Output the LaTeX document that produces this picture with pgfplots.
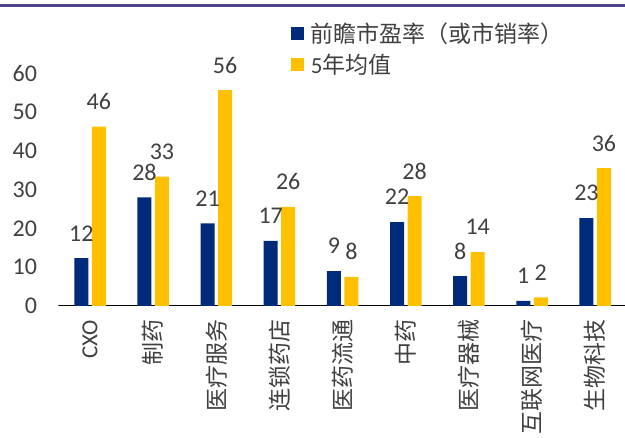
\documentclass[border=0pt]{standalone}
\usepackage{pgfplots}
\pgfplotsset{compat=1.18}
\usepackage{fontspec}
\setmainfont{Carlito}
\newfontfamily\cjk{Noto Sans CJK SC}
\definecolor{navy}{RGB}{0,42,122}
\definecolor{gold}{RGB}{255,192,0}
\definecolor{txt}{RGB}{64,64,64}
\definecolor{topline}{RGB}{78,70,138}
\definecolor{baseline}{RGB}{217,217,217}
\begin{document}
\begin{tikzpicture}
\useasboundingbox (0,0) rectangle (625pt,438pt);
\draw[topline, line width=2.5pt] (0,432.5pt) -- (625pt,432.5pt);
\begin{axis}[
    at={(58.5pt,132pt)}, anchor=south west,
    scale only axis, width=567pt, height=271.8pt,
    ybar=3.5pt, bar width=14pt,
    xmin=-0.5, xmax=8.48, ymin=0, ymax=70,
    xtick={0,...,8},
    xticklabels={CXO,{\cjk 制药},{\cjk 医疗服务},{\cjk 连锁药店},{\cjk 医药流通},{\cjk 中药},{\cjk 医疗器械},{\cjk 互联网医疗},{\cjk 生物科技}},
    ytick={0,10,...,60},
    axis line style={draw=none}, tick style={draw=none},
    tick label style={font=\fontsize{24}{28}\selectfont, text=txt},
    yticklabel style={xshift=-18pt},
    xticklabel style={font=\fontsize{23}{27}\selectfont, yshift=-6pt, rotate=90, anchor=east},
    /pgf/number format/assume math mode=true,
    nodes near coords, point meta=explicit symbolic,
    every node near coord/.append style={font=\fontsize{24}{28}\selectfont, text=txt, anchor=center, yshift=25pt},
    legend style={at={(axis description cs:0.404,1.058)}, anchor=north west, draw=none, fill=none,
        font=\fontsize{23}{27}\selectfont, text=txt, row sep=6pt,
        /tikz/every odd column/.append style={column sep=5pt}},
    legend cell align=left,
    legend image code/.code={\fill[#1,draw=none] (0pt,-6.5pt) rectangle (13pt,6.5pt);},
]
\draw[baseline, line width=1.5pt] (rel axis cs:0,0) -- (rel axis cs:1,0);
\addplot[fill=navy, draw=none] coordinates {
    (0,12.3) [12] (1,28.0) [28] (2,21.3) [21] (3,16.8) [17] (4,9.0) [9]
    (5,21.6) [22] (6,7.7) [8] (7,1.3) [1] (8,22.6) [23]
};
\addlegendentry{{\cjk 前瞻市盈率（或市销率）}}
\addplot[fill=gold, draw=none] coordinates {
    (0,46.2) [46] (1,33.3) [33] (2,55.6) [56] (3,25.5) [26] (4,7.5) [8]
    (5,28.3) [28] (6,13.9) [14] (7,2.2) [2] (8,35.5) [36]
};
\addlegendentry{5{\cjk 年均值}}
\end{axis}
\end{tikzpicture}
\end{document}
